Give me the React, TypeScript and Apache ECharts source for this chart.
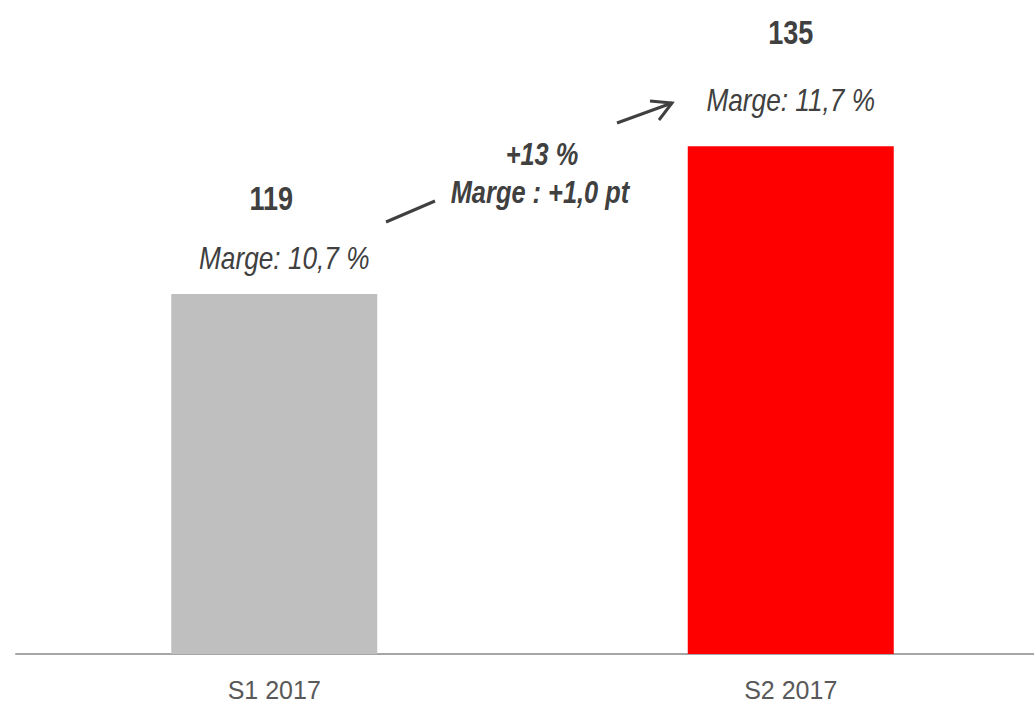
import React, { useEffect, useRef } from "react";
import * as echarts from "echarts";

const categories = ["S1 2017", "S2 2017"];
const values = [119, 135];
const margins = ["Marge: 10,7 %", "Marge: 11,7 %"];
const barColors = ["#BFBFBF", "#FF0000"];
const growthLabel = "+13 %";
const marginChangeLabel = "Marge : +1,0 pt";

const FONT = "'Liberation Sans', Arial, sans-serif";
const TEXT = "#404040";
const NARROW_SCALE = 0.82;

export default function App() {
  const ref = useRef<HTMLDivElement>(null);
  useEffect(() => {
    if (!ref.current) return;
    const chart = echarts.init(ref.current, null, { renderer: "svg" });
    chart.setOption({
      animation: false,
      grid: { left: 16, right: -15, top: 100, bottom: 49, outerBoundsMode: "none", containLabel: false },
      xAxis: {
        type: "category",
        data: categories,
        axisLine: { show: true, lineStyle: { color: "#A6A6A6", width: 2 } },
        axisTick: { show: false },
        axisLabel: {
          color: "#595959",
          fontSize: 25,
          lineHeight: 24,
          fontFamily: FONT,
          margin: 24,
        },
      },
      yAxis: {
        type: "value",
        min: 80,
        max: 140,
        show: false,
        splitLine: { show: false },
      },
      series: [
        {
          type: "bar",
          barWidth: 206,
          data: values.map((v, i) => ({
            value: v,
            itemStyle: { color: barColors[i] },
          })),
        },
      ],
    });

    // label offsets relative to each bar top (pixels)
    const valueOffsets = [
      [-3, -95],
      [0, -114],
    ];
    const marginOffsets = [
      [10, -36],
      [0, -46],
    ];
    const labelGraphics: any[] = [];
    values.forEach((v, i) => {
      const p = chart.convertToPixel({ seriesIndex: 0 }, [i, v]) as number[];
      labelGraphics.push({
        type: "text",
        x: p[0] + valueOffsets[i][0],
        y: p[1] + valueOffsets[i][1],
        scaleX: NARROW_SCALE,
        style: {
          text: String(v),
          fontFamily: FONT,
          fontWeight: "bold",
          fontSize: 33,
          fill: TEXT,
          align: "center",
          verticalAlign: "middle",
        },
      });
      labelGraphics.push({
        type: "text",
        x: p[0] + marginOffsets[i][0],
        y: p[1] + marginOffsets[i][1],
        scaleX: NARROW_SCALE,
        style: {
          text: margins[i],
          fontFamily: FONT,
          fontStyle: "italic",
          fontSize: 32,
          fill: TEXT,
          align: "center",
          verticalAlign: "middle",
        },
      });
    });

    chart.setOption({
      graphic: [
        ...labelGraphics,
        {
          type: "line",
          shape: { x1: 386, y1: 222, x2: 435, y2: 201 },
          style: { stroke: TEXT, lineWidth: 3 },
        },
        {
          type: "line",
          shape: { x1: 617, y1: 123, x2: 672, y2: 103 },
          style: { stroke: TEXT, lineWidth: 3 },
        },
        {
          type: "polyline",
          shape: { points: [[650, 101], [672, 103], [659, 120]] },
          style: { stroke: TEXT, lineWidth: 3, fill: "none" },
        },
        {
          type: "text",
          x: 542,
          y: 154,
          scaleX: NARROW_SCALE,
          style: {
            text: growthLabel,
            fontFamily: FONT,
            fontStyle: "italic",
            fontWeight: "bold",
            fontSize: 31,
            fill: TEXT,
            align: "center",
            verticalAlign: "middle",
          },
        },
        {
          type: "text",
          x: 540,
          y: 192,
          scaleX: NARROW_SCALE,
          style: {
            text: marginChangeLabel,
            fontFamily: FONT,
            fontStyle: "italic",
            fontWeight: "bold",
            fontSize: 31,
            fill: TEXT,
            align: "center",
            verticalAlign: "middle",
          },
        },
      ],
    });
    return () => chart.dispose();
  }, []);
  return (
    <div
      ref={ref}
      style={{ position: "fixed", left: 0, top: 0, width: 1034, height: 703, background: "#fff" }}
    />
  );
}
